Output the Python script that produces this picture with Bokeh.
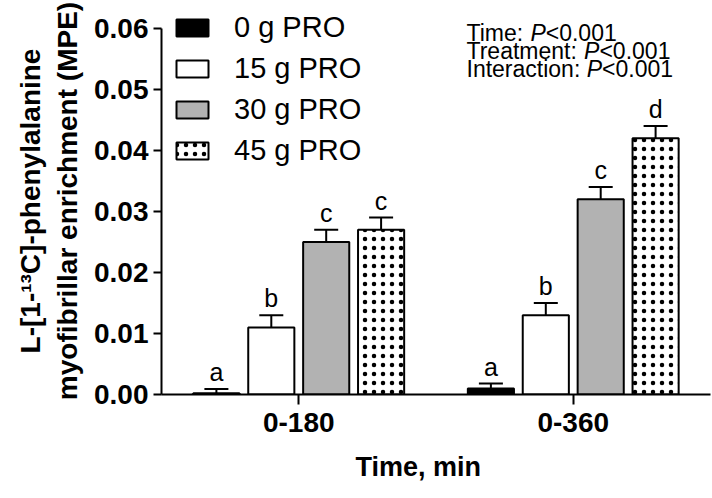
from bokeh.plotting import figure
from bokeh.models import (FactorRange, Range1d, FixedTicker, PrintfTickFormatter,
                          ColumnDataSource, Legend, LegendItem, Label, Title)
from bokeh.transform import dodge
from bokeh.core.properties import value
from bokeh.embed import file_html
from bokeh.resources import INLINE

# ---- data ----
categories = ["0-180", "0-360"]
groups = ["0 g PRO", "15 g PRO", "30 g PRO", "45 g PRO"]
pro0 = [0.0002, 0.001]
pro15 = [0.011, 0.013]
pro30 = [0.025, 0.032]
pro45 = [0.027, 0.042]
err0 = [0.0007, 0.0008]
err15 = [0.002, 0.002]
err30 = [0.002, 0.002]
err45 = [0.002, 0.002]
letters0 = ["a", "a"]
letters15 = ["b", "b"]
letters30 = ["c", "c"]
letters45 = ["c", "d"]
y_ticks = [0.0, 0.01, 0.02, 0.03, 0.04, 0.05, 0.06]
y_max = 0.06
stats_prefix = ["Time: ", "Treatment: ", "Interaction: "]
stats_p = ["<0.001", "<0.001", "<0.001"]

FONT = "Liberation Sans"

# frame extends slightly above the axis top so the legend/stats text is not clipped
frame_top, axis_top, frame_bottom = 7, 28, 393.5
y_end = y_max * (frame_bottom - frame_top) / (frame_bottom - axis_top)

p = figure(width=712, height=498, x_range=FactorRange(*categories, range_padding=0),
           y_range=Range1d(0, y_end), output_backend="svg", toolbar_location=None,
           min_border_left=161, min_border_right=2, min_border_top=frame_top,
           min_border_bottom=104)
p.outline_line_color = None
p.grid.visible = False
p.background_fill_color = "white"
p.border_fill_color = "white"

series = [
    (pro0, err0, letters0, -0.3, dict(fill_color="black")),
    (pro15, err15, letters15, -0.1, dict(fill_color="white")),
    (pro30, err30, letters30, 0.1, dict(fill_color="#b2b2b2")),
    (pro45, err45, letters45, 0.3, dict(fill_color="white", hatch_pattern="dot",
                                        hatch_color="black", hatch_scale=9, hatch_weight=2.2)),
]

items = []
for (vals, errs, lets, off, style), name in zip(series, groups):
    src = ColumnDataSource(dict(cat=categories, val=vals,
                                top=[v + e for v, e in zip(vals, errs)], lab=lets))
    xd = dodge("cat", off, range=p.x_range)
    r = p.vbar(x=xd, top="val", bottom=0, width=0.168, source=src,
               line_color="black", line_width=2, **style)
    p.segment(x0=xd, y0="val", x1=xd, y1="top", source=src, line_color="black", line_width=2)
    p.scatter(x=xd, y="top", marker="dash", size=24, source=src, line_color="black", line_width=2)
    p.text(x=xd, y="top", text="lab", source=src, text_align="center", text_baseline="bottom",
           y_offset=-3, text_font=value(FONT), text_font_size="25px", text_color="black")
    items.append(LegendItem(label=name, renderers=[r]))

legend = Legend(items=items, location=(11, 227), padding=0, margin=0,
                glyph_width=40, glyph_height=21, label_height=33, spacing=8,
                label_standoff=22, label_text_font=FONT, label_text_font_size="29px",
                label_text_color="black",
                border_line_color=None, background_fill_alpha=0)
p.add_layout(legend)

# axes
p.yaxis.ticker = FixedTicker(ticks=y_ticks)
p.yaxis.bounds = (0, y_max)
p.yaxis.formatter = PrintfTickFormatter(format="%.2f")
p.yaxis.axis_label = "L-[1-\u00b9\u00b3C]-phenylalanine\nmyofibrillar enrichment (MPE)"
for ax in (p.xaxis[0], p.yaxis[0]):
    ax.axis_line_width = 2
    ax.axis_line_color = "black"
    ax.major_tick_line_width = 2
    ax.major_tick_line_color = "black"
    ax.major_tick_in = 0
    ax.minor_tick_line_color = None
    ax.major_label_text_font = FONT
    ax.major_label_text_font_style = "bold"
    ax.major_label_text_color = "black"
    ax.axis_label_text_font = FONT
    ax.axis_label_text_font_style = "bold"
    ax.axis_label_text_color = "black"
p.yaxis.major_tick_out = 8
p.yaxis.major_label_text_font_size = "28px"
p.yaxis.major_label_standoff = 5
p.yaxis.axis_label_text_font_size = "28px"
p.yaxis.axis_label_standoff = 8
p.xaxis.major_tick_out = 10
p.xaxis.major_label_text_font_size = "28px"
p.xaxis.major_label_standoff = 8

# x-axis title (placed slightly left of frame centre, as in the reference)
p.add_layout(Title(text="Time, min", align="left", offset=194, standoff=30,
                   text_font=FONT, text_font_style="bold", text_font_size="27px",
                   text_color="black"), "below")

# statistics annotation (regular text with italic P)
W = {"T": .611, "i": .222, "m": .833, "e": .556, ":": .278, " ": .278, "r": .333,
     "a": .556, "t": .278, "n": .556, "I": .278, "c": .5, "o": .556}
fs = 23
x0 = 305
base_y = [362, 343.7, 325.4]
for pre, pv, yb in zip(stats_prefix, stats_p, base_y):
    wpre = sum(W[c] for c in pre) * fs
    common = dict(x_units="screen", y_units="screen", y=yb, text_font=FONT,
                  text_font_size=f"{fs}px", text_color="black", text_baseline="alphabetic")
    p.add_layout(Label(x=x0, text=pre, **common))
    p.add_layout(Label(x=x0 + wpre, text="P", text_font_style="italic", **common))
    p.add_layout(Label(x=x0 + wpre + 0.667 * fs, text=pv, **common))

open("out.html", "w").write(file_html(p, INLINE))
